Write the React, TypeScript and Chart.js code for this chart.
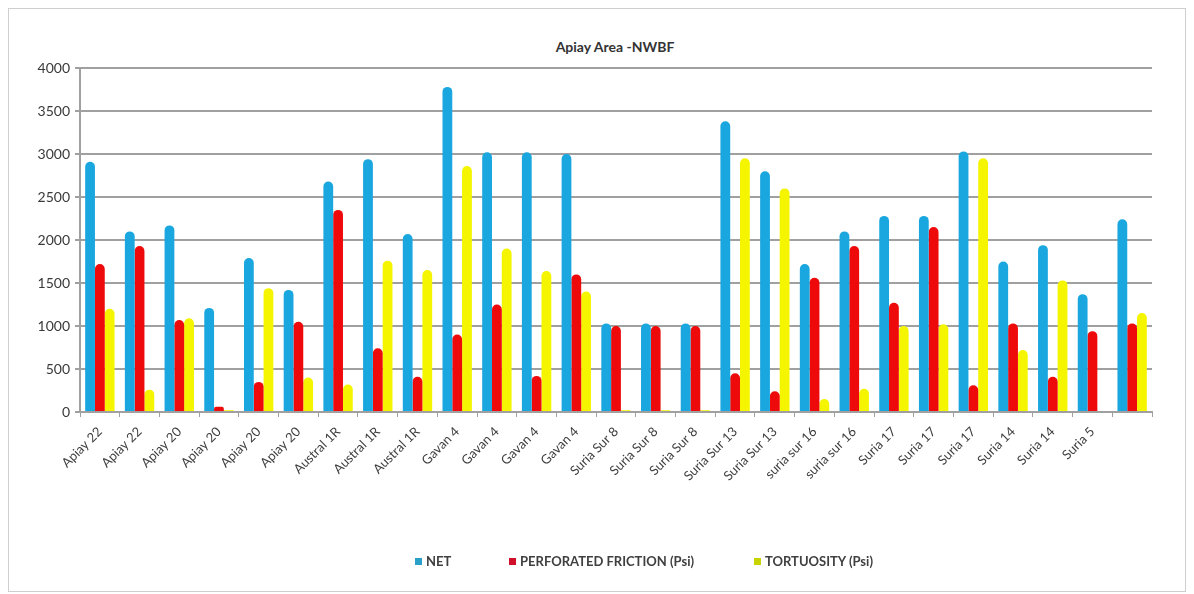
import React, { useEffect, useRef } from "react";
import { Chart, registerables } from "chart.js";

Chart.register(...registerables);

const categories = [
  "Apiay 22", "Apiay 22", "Apiay 20", "Apiay 20", "Apiay 20", "Apiay 20",
  "Austral 1R", "Austral 1R", "Austral 1R",
  "Gavan 4", "Gavan 4", "Gavan 4", "Gavan 4",
  "Suria Sur 8", "Suria Sur 8", "Suria Sur 8",
  "Suria Sur 13", "Suria Sur 13",
  "suria sur 16", "suria sur 16",
  "Suria 17", "Suria 17", "Suria 17",
  "Suria 14", "Suria 14", "Suria 5", "",
];

const netValues = [
  2910, 2100, 2170, 1210, 1790, 1420, 2680, 2940, 2070,
  3780, 3020, 3020, 3000, 1030, 1030, 1030, 3380, 2800,
  1720, 2100, 2280, 2280, 3030, 1750, 1940, 1370, 2240,
];

const perforatedFriction = [
  1720, 1930, 1070, 60, 350, 1050, 2350, 740, 410,
  900, 1250, 420, 1600, 1000, 1000, 1000, 450, 240,
  1560, 1930, 1270, 2150, 310, 1030, 410, 940, 1030,
];

const tortuosity = [
  1200, 260, 1090, 20, 1440, 400, 320, 1760, 1650,
  2860, 1900, 1640, 1400, 20, 20, 20, 2950, 2600,
  150, 270, 1000, 1020, 2950, 720, 1530, 0, 1150,
];

const seriesNames = ["NET", "PERFORATED FRICTION (Psi)", "TORTUOSITY (Psi)"];
const seriesColors = ["#1aa7e0", "#ee0a0a", "#f5f500"];
const legendBoxColors = ["#2a9fc8", "#d0102a", "#c8d400"];
const legendLefts = [406, 500, 745];

const yTicks = { min: 0, max: 4000, step: 500 };
const titleText = "Apiay Area -NWBF";

export default function App() {
  const canvasRef = useRef<HTMLCanvasElement | null>(null);

  useEffect(() => {
    if (!canvasRef.current) return;
    const seriesData = [netValues, perforatedFriction, tortuosity];
    const chart = new Chart(canvasRef.current, {
      type: "bar",
      data: {
        labels: categories,
        datasets: seriesNames.map((name, i) => ({
          label: name,
          data: seriesData[i],
          backgroundColor: seriesColors[i],
          borderWidth: 0,
          borderRadius: 5,
          categoryPercentage: 0.74,
          barPercentage: 1.0,
        })),
      },
      options: {
        animation: false,
        responsive: true,
        maintainAspectRatio: false,
        layout: { padding: { left: 21, right: 33, top: 59, bottom: 0 } },
        plugins: {
          legend: { display: false },
          title: { display: false },
          tooltip: { enabled: false },
        },
        scales: {
          x: {
            afterFit: (s: any) => {
              s.height = 179;
            },
            grid: {
              display: true,
              drawOnChartArea: false,
              drawTicks: true,
              tickLength: 5,
              offset: true,
              color: "#a0a0a0",
            },
            border: { display: true, color: "#a0a0a0", width: 2 },
            ticks: {
              autoSkip: false,
              maxRotation: 45,
              minRotation: 45,
              padding: 7,
              color: "#404040",
              font: { family: "Lato", size: 13 },
            },
          },
          y: {
            min: yTicks.min,
            max: yTicks.max,
            afterFit: (s: any) => {
              s.width = 50;
            },
            grid: {
              color: "#a0a0a0",
              lineWidth: 2,
              tickLength: 5,
            },
            border: { display: true, color: "#a0a0a0", width: 2 },
            ticks: {
              stepSize: yTicks.step,
              padding: 5,
              color: "#3a3a3a",
              font: { family: "Lato", size: 14 },
              callback: (v: any) => String(v),
            },
          },
        },
      },
    });
    return () => chart.destroy();
  }, []);

  return (
    <div
      style={{
        position: "relative",
        height: 584,
        border: "1px solid #cfcfcf",
        boxSizing: "border-box",
        background: "#fff",
      }}
    >
      <div
        style={{
          position: "absolute",
          top: 29,
          left: 0,
          width: 1212,
          textAlign: "center",
          fontFamily: "Lato",
          fontWeight: 700,
          fontSize: 14,
          lineHeight: "18px",
          color: "#333",
        }}
      >
        {titleText}
      </div>
      <div style={{ position: "relative", width: "100%", height: "100%" }}>
        <canvas ref={canvasRef} />
      </div>
      {seriesNames.map((name, i) => (
        <div
          key={name}
          style={{
            position: "absolute",
            top: 544,
            left: legendLefts[i],
            display: "flex",
            alignItems: "center",
            fontFamily: "Lato",
            fontWeight: 700,
            fontSize: 13,
            lineHeight: "16px",
            color: "#404040",
            whiteSpace: "nowrap",
          }}
        >
          <span
            style={{
              display: "inline-block",
              width: 7,
              height: 7,
              background: legendBoxColors[i],
              marginRight: 4,
            }}
          />
          {name}
        </div>
      ))}
    </div>
  );
}
